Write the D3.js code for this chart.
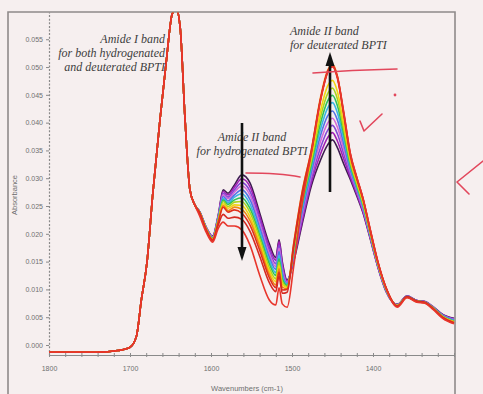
<!DOCTYPE html>
<html><head><meta charset="utf-8">
<script src="https://cdn.jsdelivr.net/npm/d3@7"></script>
<style>html,body{margin:0;padding:0;background:#f6efef;}svg{display:block}</style>
</head><body><svg id="c" width="483" height="394"></svg>
<script>
// wavenumbers (cm-1)
const wavenumbers = [1800,1740,1715,1700,1692,1686,1679,1672,1663,1655,1648,1643,1638,1632,1626,1620,
  1614,1606,1598,1591,1585,1579,1571,1562,1552,1540,1528,1520,1516,1512,1506,1498,1488,1476,1465,1456,
  1450,1444,1436,1428,1420,1412,1404,1394,1384,1370,1358,1346,1336,1326,1314,1300];
// Amide I region, common to all scans (1800 -> 1620)
const sharedAmideI = [-0.0013,-0.0013,-0.0010,-0.0004,0.0016,0.0081,0.0149,0.0270,0.0405,0.0513,0.0595,0.0605,0.0570,0.0405,0.0279,0.0252];
// individual scans (1614 -> 1300)
const scan01 = [.0240,.0212,.0196,.0234,.0279,.0273,.0288,.0306,.0292,.0238,.0182,.0157,.0189,.0150,.0117,.0150,.0214,.0287,.0332,.0360,.0369,.0355,.0325,.0298,.0268,.0236,.0194,.0140,.0097,.0073,.0088,.0080,.0078,.0069,.0055,.0048];
const scan02 = [.0240,.0212,.0195,.0233,.0276,.0270,.0284,.0299,.0285,.0232,.0176,.0152,.0186,.0146,.0115,.0153,.0219,.0293,.0343,.0373,.0382,.0367,.0334,.0302,.0271,.0238,.0196,.0141,.0097,.0073,.0088,.0080,.0078,.0069,.0054,.0047];
const scan03 = [.0240,.0211,.0194,.0231,.0273,.0266,.0279,.0292,.0277,.0225,.0170,.0146,.0180,.0141,.0113,.0156,.0225,.0300,.0354,.0386,.0395,.0380,.0343,.0307,.0275,.0241,.0198,.0142,.0098,.0072,.0088,.0080,.0078,.0068,.0054,.0046];
const scan04 = [.0239,.0211,.0194,.0230,.0270,.0263,.0275,.0286,.0270,.0219,.0164,.0141,.0174,.0136,.0112,.0159,.0230,.0306,.0365,.0399,.0408,.0392,.0352,.0311,.0278,.0243,.0199,.0143,.0099,.0072,.0087,.0079,.0077,.0068,.0053,.0046];
const scan05 = [.0239,.0210,.0193,.0229,.0267,.0259,.0270,.0279,.0262,.0212,.0158,.0136,.0168,.0130,.0110,.0162,.0236,.0312,.0376,.0412,.0421,.0405,.0361,.0315,.0281,.0246,.0201,.0144,.0099,.0072,.0087,.0079,.0077,.0068,.0053,.0045];
const scan06 = [.0239,.0210,.0192,.0227,.0264,.0256,.0266,.0272,.0254,.0205,.0152,.0130,.0161,.0125,.0109,.0165,.0242,.0319,.0387,.0426,.0436,.0418,.0370,.0320,.0284,.0248,.0202,.0145,.0100,.0071,.0087,.0079,.0077,.0067,.0052,.0044];
const scan07 = [.0239,.0210,.0192,.0226,.0261,.0253,.0261,.0265,.0246,.0198,.0146,.0125,.0155,.0119,.0107,.0168,.0248,.0325,.0398,.0439,.0449,.0431,.0379,.0324,.0287,.0251,.0204,.0146,.0101,.0071,.0087,.0079,.0077,.0067,.0052,.0043];
const scan08 = [.0238,.0209,.0191,.0225,.0258,.0249,.0257,.0258,.0239,.0192,.0139,.0119,.0149,.0114,.0105,.0171,.0253,.0332,.0409,.0452,.0462,.0443,.0387,.0329,.0290,.0253,.0205,.0146,.0101,.0071,.0086,.0079,.0077,.0067,.0051,.0042];
const scan09 = [.0238,.0209,.0190,.0223,.0254,.0246,.0252,.0251,.0231,.0185,.0133,.0114,.0143,.0109,.0103,.0174,.0259,.0338,.0420,.0466,.0476,.0456,.0396,.0333,.0294,.0256,.0207,.0147,.0102,.0071,.0086,.0078,.0076,.0066,.0051,.0042];
const scan10 = [.0238,.0208,.0190,.0222,.0251,.0242,.0248,.0244,.0224,.0178,.0127,.0108,.0137,.0104,.0101,.0182,.0272,.0352,.0444,.0494,.0505,.0484,.0412,.0338,.0297,.0259,.0208,.0148,.0102,.0070,.0086,.0078,.0076,.0066,.0050,.0041];
const scan11 = [.0238,.0208,.0189,.0221,.0248,.0239,.0243,.0237,.0216,.0171,.0121,.0103,.0131,.0099,.0100,.0180,.0270,.0351,.0441,.0491,.0502,.0480,.0414,.0342,.0300,.0261,.0210,.0149,.0103,.0070,.0086,.0078,.0076,.0066,.0050,.0040];
const scan12 = [.0236,.0206,.0187,.0216,.0235,.0228,.0230,.0226,.0205,.0160,.0112,.0096,.0124,.0093,.0095,.0175,.0265,.0348,.0440,.0492,.0503,.0483,.0416,.0344,.0301,.0262,.0211,.0150,.0104,.0070,.0087,.0079,.0077,.0066,.0049,.0039];
const scan13 = [.0232,.0203,.0185,.0210,.0221,.0214,.0214,.0207,.0180,.0126,.0081,.0072,.0103,.0074,.0068,.0140,.0250,.0345,.0438,.0490,.0500,.0482,.0418,.0345,.0302,.0262,.0212,.0150,.0103,.0068,.0085,.0077,.0075,.0064,.0048,.0038];
const scans = [scan01,scan02,scan03,scan04,scan05,scan06,scan07,scan08,scan09,scan10,scan11,scan12,scan13];
const scanColors = ["#3f1d52","#a11fb4","#8447d6","#d36ad8","#5472e4","#3bb4e6","#2fc25a","#a8d61e","#f2d40f","#f08a12","#e0301c","#d62a22","#e8362c"];
const yTicks = [0.000,0.005,0.010,0.015,0.020,0.025,0.030,0.035,0.040,0.045,0.050,0.055];
const xTicks = [1800,1700,1600,1500,1400];
const xMinorTicks = [1780,1760,1740,1720,1680,1660,1640,1620,1580,1560,1540,1520,1480,1460,1440,1420,1380,1360,1340,1320,1300];

const svg = d3.select("#c");
svg.append("rect").attr("width",483).attr("height",394).attr("fill","#f6efef");

const x = d3.scaleLinear().domain([1800,1300]).range([49,454]);
const y = d3.scaleLinear().domain([-0.0018,0.0599]).range([355,12]);

// outer frame
svg.append("path").attr("d","M8,394V12H455V394").attr("fill","none").attr("stroke","#8f8a8a").attr("stroke-width",1.6);

svg.append("defs").append("clipPath").attr("id","clip").append("rect")
  .attr("x",49).attr("y",12.8).attr("width",406).attr("height",343);

// axes
const tickFont = "'Liberation Sans Narrow','Liberation Sans',Arial,sans-serif";
const gy = svg.append("g").attr("transform","translate(49,0)")
  .call(d3.axisLeft(y).tickValues(yTicks).tickFormat(d3.format(".3f")).tickSize(3).tickSizeOuter(0));
gy.select(".domain").attr("stroke","#8a8a8a").attr("stroke-dasharray","2,1.6").attr("stroke-width",1.2);
gy.selectAll(".tick line").attr("stroke","#8a8a8a");
gy.selectAll(".tick text").attr("fill","#6f6f6f").style("font-family",tickFont).style("font-size","7px");

const gx = svg.append("g").attr("transform","translate(0,355)")
  .call(d3.axisBottom(x).tickValues(xTicks).tickFormat(d3.format("d")).tickSize(2).tickSizeOuter(0).tickPadding(9));
gx.select(".domain").attr("stroke","#8a8a8a").attr("stroke-width",1.2);
gx.selectAll(".tick line").attr("stroke","#8a8a8a");
gx.selectAll(".tick text").attr("fill","#6f6f6f").style("font-family",tickFont).style("font-size","7px");
svg.append("g").attr("transform","translate(0,355)")
  .call(d3.axisBottom(x).tickValues(xMinorTicks).tickFormat("").tickSize(2).tickSizeOuter(0))
  .call(g=>g.select(".domain").remove()).selectAll("line").attr("stroke","#8a8a8a");
svg.append("g").attr("transform","translate(0,355)")
  .call(d3.axisTop(x).tickValues(xTicks.concat(xMinorTicks)).tickFormat("").tickSize(2).tickSizeOuter(0))
  .call(g=>g.select(".domain").remove()).selectAll("line").attr("stroke","#8a8a8a");

svg.append("text").attr("x",247).attr("y",391).attr("text-anchor","middle")
  .attr("fill","#6f6f6f").style("font-family",tickFont).style("font-size","7.5px").text("Wavenumbers (cm-1)");
svg.append("text").attr("transform","translate(17,195) rotate(-90)").attr("text-anchor","middle")
  .attr("fill","#6f6f6f").style("font-family",tickFont).style("font-size","7.5px").text("Absorbance");

// spectra
const line = d3.line().x(d=>x(d[0])).y(d=>y(d[1])).curve(d3.curveMonotoneX);
const plot = svg.append("g").attr("clip-path","url(#clip)");
scans.forEach((s,i)=>{
  const vals = sharedAmideI.concat(s);
  plot.append("path").datum(wavenumbers.map((w,j)=>[w,vals[j]]))
    .attr("d",line).attr("fill","none").attr("stroke",scanColors[i]).attr("stroke-width",1.6)
    .attr("stroke-linejoin","round");
});

// annotations
const annFont = "'Liberation Serif','DejaVu Serif',serif";
function ann(lines,xx,yy,anchor){
  const t = svg.append("text").attr("text-anchor",anchor).attr("fill","#3d3d3d")
    .style("font-family",annFont).style("font-style","italic").style("font-size","12px");
  lines.forEach((l,i)=>t.append("tspan").attr("x",xx).attr("y",yy+i*14).text(l));
}
ann(["Amide I band","for both hydrogenated","and deuterated BPTI"],165,43,"end");
ann(["Amide II band","for hydrogenated BPTI"],252,141,"middle");
ann(["Amide II band","for deuterated BPTI"],290,35,"start");

// arrows
svg.append("line").attr("x1",242).attr("y1",123).attr("x2",242).attr("y2",250).attr("stroke","#111").attr("stroke-width",2.6);
svg.append("path").attr("d","M237.5,247L246.5,247L242,261Z").attr("fill","#111");
svg.append("line").attr("x1",330).attr("y1",192).attr("x2",330).attr("y2",64).attr("stroke","#111").attr("stroke-width",2.6);
svg.append("path").attr("d","M325.5,66L334.5,66L330,52Z").attr("fill","#111");

// handwritten red marks
const red = "#e2475c";
const rm = d=>svg.append("path").attr("d",d).attr("fill","none").attr("stroke",red).attr("stroke-width",1.6).attr("stroke-linecap","round").attr("stroke-linejoin","round");
rm("M313,73Q350,70 397,69");
rm("M246,173Q280,173 300,177");
rm("M360,121L364,131L382,114");
rm("M483,161L457,182L469,194");
svg.append("circle").attr("cx",395).attr("cy",95).attr("r",1.4).attr("fill",red);
</script></body></html>
